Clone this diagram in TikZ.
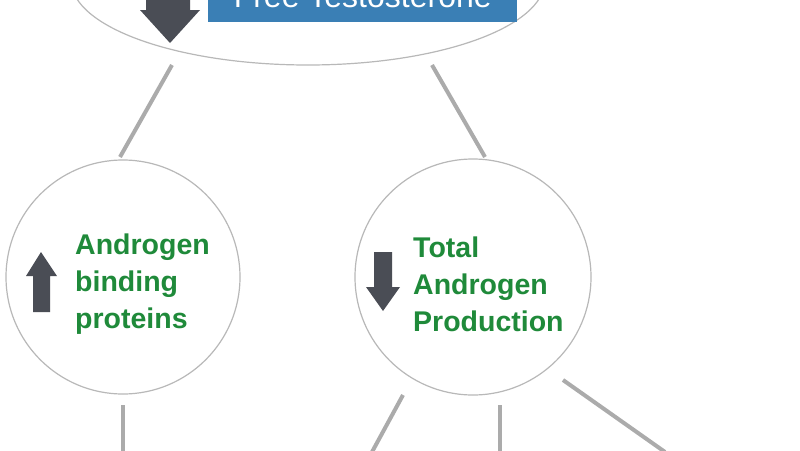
\documentclass[tikz,border=0pt]{standalone}
\usepackage{fontspec}
\setmainfont{Liberation Sans}
\usetikzlibrary{shapes.geometric}
\definecolor{arrc}{HTML}{4A4D55}
\definecolor{ftblue}{HTML}{3A7FB5}
\definecolor{lblgreen}{HTML}{1F8A3A}
\begin{document}
\begin{tikzpicture}[x=1pt,y=-1pt,
  conn/.style={draw=black!33,line width=4pt},
  bub/.style={draw=black!28,line width=1.2pt,fill=white},
  lbl/.style={text=lblgreen,font=\bfseries\fontsize{28.5}{37}\selectfont,align=left,anchor=west,inner sep=0},
  arr/.style={fill=arrc}]
\path[use as bounding box] (0,0) rectangle (800,450);
\clip (0,0) rectangle (800,450);
% top ellipse
\node[bub,ellipse,minimum width=474pt,minimum height=170pt,draw,inner sep=0] (top) at (308,-20) {};
\fill[arr] (146,-5) -- (190,-5) -- (190,10) -- (200,10) -- (170,43) -- (140,10) -- (146,10) -- cycle;
\node[fill=ftblue,text=white,font=\fontsize{32}{32}\selectfont,minimum width=309pt,minimum height=50pt,anchor=south west,inner sep=0] (ft) at (208,22) {Free Testosterone};
% circles
\node[bub,circle,minimum size=234pt,inner sep=0] (L) at (123,277) {};
\node[bub,circle,minimum size=236pt,inner sep=0] (R) at (473,277) {};
\coordinate (a1) at (172,65); \coordinate (a2) at (120,157);
\coordinate (b1) at (432,65); \coordinate (b2) at (485,157);
\draw[conn] (a1) -- (a2);
\draw[conn] (b1) -- (b2);
\fill[arr] (33,312) -- (50,312) -- (50,276) -- (57,276) -- (41,252) -- (26,276) -- (33,276) -- cycle;
\fill[arr] (374,252) -- (392,252) -- (392,287) -- (400,287) -- (383,311) -- (366,287) -- (374,287) -- cycle;
\node[lbl] (lt) at (75,284) {Androgen\\binding\\proteins};
\node[lbl] (rt) at (413,284) {Total\\Androgen\\Production};
% bottom connectors
\coordinate (c1) at (123,405); \coordinate (c2) at (123,452);
\coordinate (d1) at (403,395); \coordinate (d2) at (372,452);
\coordinate (e1) at (500,405); \coordinate (e2) at (500,452);
\coordinate (f1) at (563,380); \coordinate (f2) at (665,452);
\draw[conn] (c1) -- (c2);
\draw[conn] (d1) -- (d2);
\draw[conn] (e1) -- (e2);
\draw[conn] (f1) -- (f2);
\end{tikzpicture}
\end{document}
